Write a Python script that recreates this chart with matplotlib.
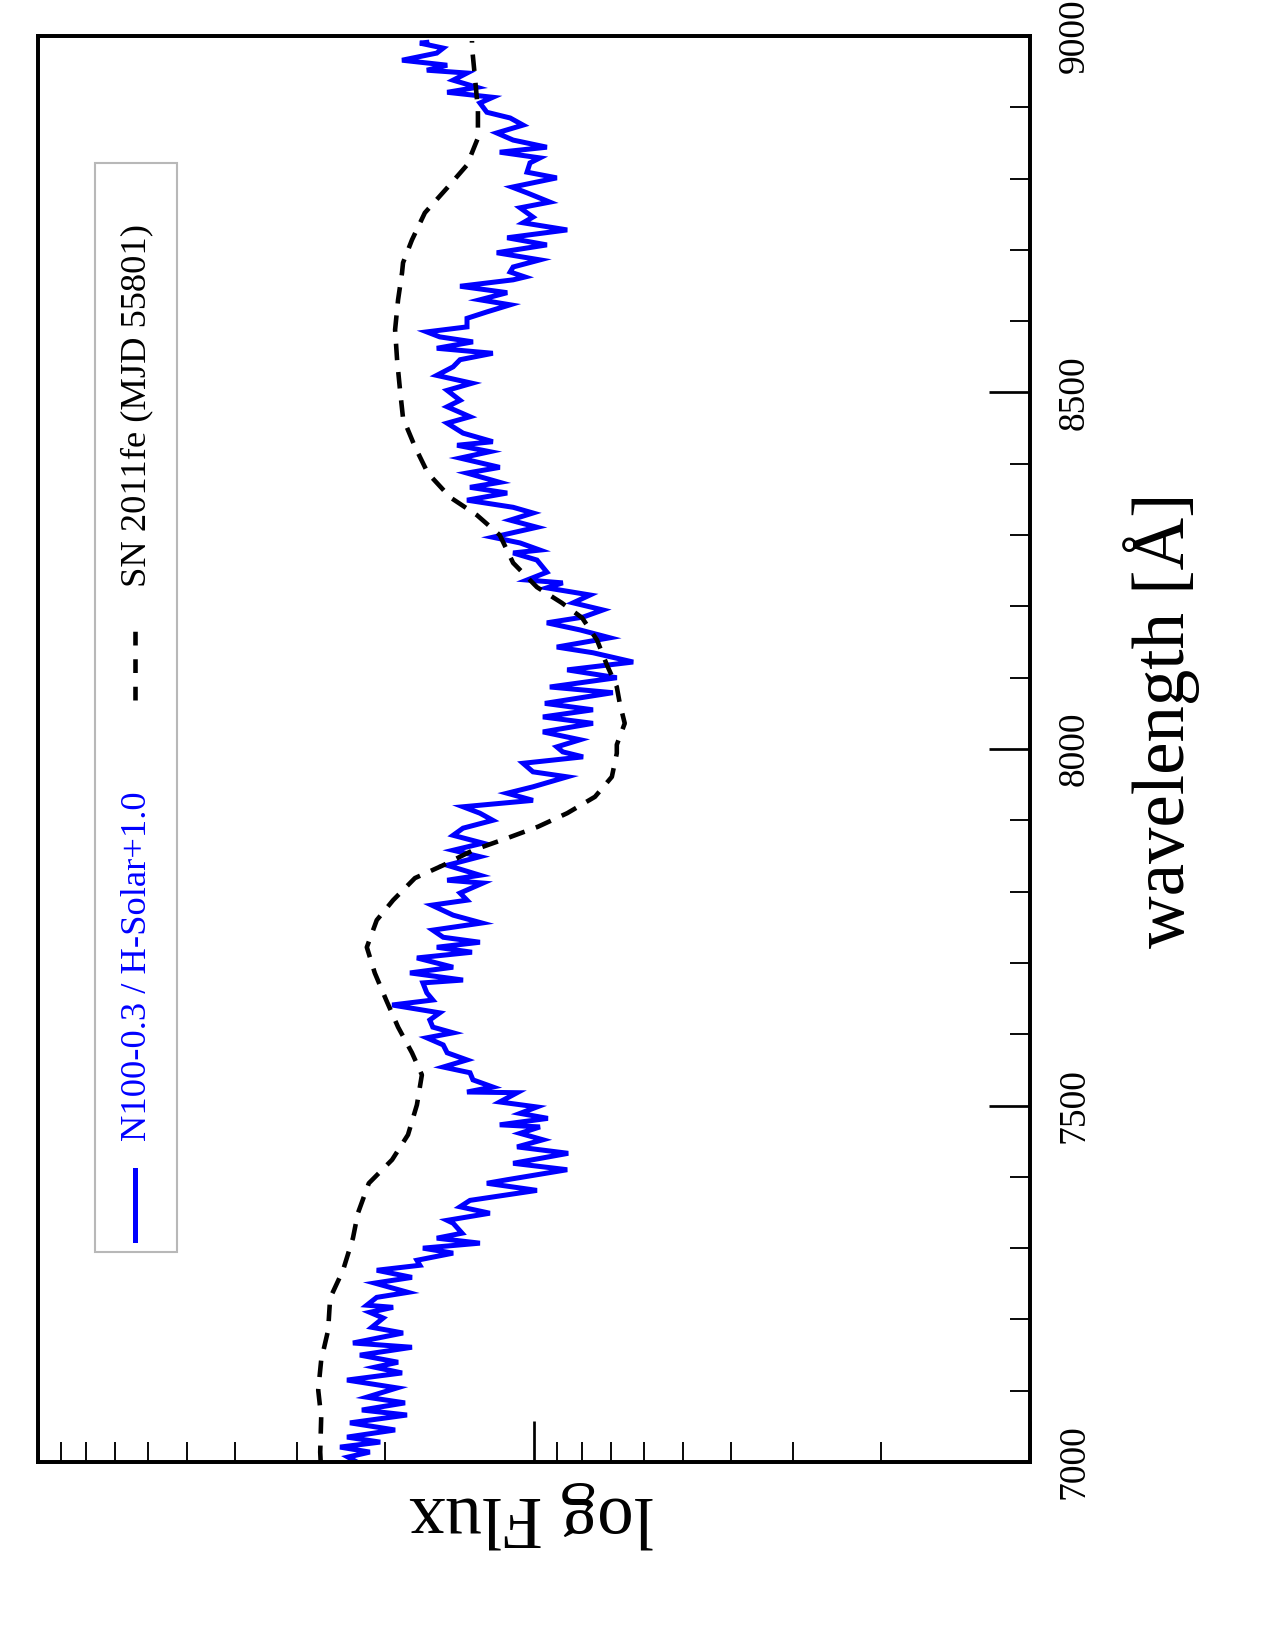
import numpy as np
import matplotlib
matplotlib.use("Agg")
import matplotlib.pyplot as plt
from matplotlib.ticker import MultipleLocator, LogLocator, NullFormatter
from matplotlib.patches import Rectangle
from matplotlib.lines import Line2D

plt.rcParams['font.family'] = ['Liberation Serif', 'DejaVu Serif']

# SN 2011fe (MJD 55801), observed spectrum: wavelength [A] and log10 flux
obs_wave = [7000, 7014, 7063, 7101, 7143, 7185, 7230, 7269, 7314, 7349,
            7391, 7424, 7459, 7501, 7543, 7574, 7610, 7648, 7686, 7722,
            7760, 7788, 7819, 7837, 7858, 7875, 7891, 7910, 7933, 7961,
            7994, 8006, 8036, 8064, 8087, 8118, 8153, 8184, 8205, 8227,
            8261, 8300, 8328, 8353, 8387, 8424, 8464, 8503, 8546, 8588,
            8630, 8668, 8682, 8714, 8752, 8787, 8819, 8857, 8896, 8942,
            8985, 8993]
obs_logflux = [1.430, 1.431, 1.429, 1.435, 1.429, 1.415, 1.411, 1.385, 1.365, 1.355,
               1.333, 1.286, 1.254, 1.236, 1.226, 1.246, 1.274, 1.298, 1.321, 1.337,
               1.317, 1.284, 1.240, 1.183, 1.123, 1.054, 0.992, 0.933, 0.877, 0.843,
               0.833, 0.833, 0.817, 0.827, 0.833, 0.853, 0.873, 0.903, 0.944, 0.994,
               1.042, 1.069, 1.115, 1.169, 1.214, 1.240, 1.264, 1.270, 1.276, 1.280,
               1.274, 1.266, 1.264, 1.246, 1.220, 1.175, 1.135, 1.113, 1.113, 1.119,
               1.125, 1.125]

# N100-0.3 / H-Solar model spectrum (offset +1.0 in log flux)
mod_wave = [7000, 7007, 7014, 7021, 7028, 7035, 7045, 7055, 7066, 7073,
            7083, 7091, 7104, 7115, 7125, 7133, 7140, 7150, 7161, 7167,
            7181, 7189, 7202, 7210, 7217, 7220, 7231, 7238, 7251, 7259,
            7269, 7276, 7283, 7293, 7300, 7307, 7314, 7321,
            7335, 7339, 7349, 7358, 7367, 7381, 7391, 7396, 7410, 7419,
            7433, 7442, 7452, 7461, 7470, 7473, 7482, 7489, 7498, 7505,
            7518, 7519, 7526, 7536, 7546, 7554, 7564, 7574, 7585, 7595,
            7602, 7610, 7620, 7630, 7641, 7648, 7658,
            7672, 7676, 7686, 7694, 7707, 7715, 7722, 7729, 7736, 7746,
            7756, 7767, 7781, 7788, 7798, 7812, 7816, 7823, 7837, 7849,
            7858, 7868, 7879, 7889, 7900, 7910, 7919, 7928, 7938, 7947,
            7961, 7968, 7980, 7989, 7996,
            8003, 8013, 8024, 8036, 8045, 8055, 8064, 8079, 8087, 8100,
            8111, 8122, 8135, 8143, 8156, 8167, 8177, 8185, 8195, 8205,
            8216, 8226, 8233, 8237, 8248, 8265, 8275, 8279, 8289, 8297,
            8311, 8321, 8331,
            8339, 8349, 8359, 8367, 8374, 8387, 8395, 8408, 8417, 8426,
            8431, 8443, 8457, 8466, 8480, 8489, 8503, 8513, 8524, 8536,
            8546, 8555, 8562, 8571, 8578, 8585, 8592, 8604, 8613, 8623,
            8630, 8640, 8649, 8658, 8662, 8669,
            8676, 8686, 8696, 8707, 8717, 8728, 8738, 8746, 8759, 8767,
            8780, 8788, 8801, 8809, 8822, 8829, 8837, 8844, 8854, 8864,
            8875, 8885, 8893, 8906, 8914, 8921, 8928, 8938, 8948, 8952,
            8959, 8966, 8976, 8983, 8990, 8991]
mod_logflux = [1.357, 1.375, 1.331, 1.391, 1.310, 1.377, 1.280, 1.371, 1.256, 1.347,
               1.260, 1.337, 1.276, 1.377, 1.266, 1.321, 1.274, 1.351, 1.246, 1.365,
               1.264, 1.327, 1.304, 1.331, 1.284, 1.337, 1.317, 1.254, 1.321, 1.246,
               1.317, 1.230, 1.236, 1.163, 1.224, 1.109, 1.196, 1.145,
               1.163, 1.175, 1.089, 1.149, 1.129, 0.994, 1.095, 1.054, 0.933, 1.042,
               0.931, 1.034, 0.982, 1.028, 0.988, 1.069, 0.972, 1.028, 0.994, 1.069,
               1.034, 1.135, 1.083, 1.123, 1.129, 1.183, 1.135, 1.175, 1.183, 1.216,
               1.163, 1.204, 1.210, 1.190, 1.286, 1.204, 1.216,
               1.224, 1.143, 1.250, 1.163, 1.236, 1.125, 1.196, 1.109, 1.183, 1.204,
               1.105, 1.163, 1.206, 1.135, 1.149, 1.103, 1.175, 1.109, 1.175, 1.109,
               1.163, 1.103, 1.163, 1.143, 1.083, 1.109, 1.143, 1.002, 1.054, 1.002,
               0.933, 1.002, 1.022, 0.901, 0.942,
               0.954, 0.907, 0.982, 0.881, 0.982, 0.881, 0.978, 0.841, 0.968, 0.833,
               0.933, 0.800, 0.881, 0.954, 0.847, 0.907, 0.974, 0.901, 0.861, 0.921,
               0.887, 0.974, 0.942, 1.014, 0.974, 0.994, 1.042, 0.988, 1.028, 1.083,
               0.994, 1.048, 1.002,
               1.042, 1.135, 1.054, 1.129, 1.069, 1.135, 1.069, 1.149, 1.089, 1.155,
               1.083, 1.143, 1.175, 1.129, 1.175, 1.149, 1.175, 1.125, 1.196, 1.163,
               1.149, 1.083, 1.196, 1.123, 1.190, 1.216, 1.135, 1.135, 1.095, 1.048,
               1.109, 1.054, 1.149, 1.042, 1.018, 1.048,
               1.042, 0.988, 1.075, 0.974, 1.054, 0.933, 1.022, 1.002, 1.028, 0.968,
               1.014, 1.044, 0.954, 1.014, 1.008, 0.988, 1.069, 0.974, 1.042, 1.075,
               1.022, 1.048, 1.095, 1.109, 1.083, 1.175, 1.115, 1.163, 1.135, 1.216,
               1.175, 1.266, 1.196, 1.183, 1.230, 1.216]

model_label = "N100-0.3 / H-Solar+1.0"
obs_label = "SN 2011fe (MJD 55801)"

fig = plt.figure(figsize=(8.5, 11), dpi=150)
ax = fig.add_axes([0.0298, 0.1139, 0.7780, 0.8643])

# the page is printed in landscape: flux runs along the horizontal axis
ax.plot(10 ** np.array(mod_logflux), mod_wave, color='#0000ff', lw=2.4,
        solid_joinstyle='miter')
ax.plot(10 ** np.array(obs_logflux), obs_wave, color='black', lw=2.2,
        ls=(0, (3.6, 2.6)))

ax.set_xscale('log')
ax.set_xlim(100, 1)
ax.set_ylim(7000, 9000)

ax.xaxis.set_major_locator(LogLocator(base=10))
ax.xaxis.set_minor_locator(LogLocator(base=10, subs=np.arange(2, 10)))
ax.xaxis.set_major_formatter(NullFormatter())
ax.xaxis.set_minor_formatter(NullFormatter())
ax.tick_params(axis='x', which='both', direction='in', top=False, bottom=True,
               labelbottom=False)
ax.tick_params(axis='x', which='major', length=19.7, width=1.3)
ax.tick_params(axis='x', which='minor', length=9.6, width=0.9)

ax.yaxis.set_major_locator(MultipleLocator(500))
ax.yaxis.set_minor_locator(MultipleLocator(100))
ax.tick_params(axis='y', which='both', direction='in', left=False, right=True,
               labelleft=False, labelright=True)
ax.tick_params(axis='y', which='major', length=19.7, width=1.3, labelsize=18,
               labelrotation=90, pad=13)
ax.tick_params(axis='y', which='minor', length=9.6, width=0.9)
plt.setp(ax.get_yticklabels(), va='center')

for sp in ax.spines.values():
    sp.set_linewidth(1.9)

fig.text(0.9114, 0.5636, "wavelength [Å]", rotation=90, fontsize=35,
         ha='center', va='center')
fig.text(0.4165, 0.0818, "log Flux", rotation=180, fontsize=35,
         ha='center', va='center')

# legend (rotated with the page)
box = Rectangle((0.0745, 0.2412), 0.0643, 0.66, transform=fig.transFigure,
                facecolor='white', edgecolor='#b8b8b8', lw=1.0, zorder=3)
fig.add_artist(box)
fig.add_artist(Line2D([0.1059, 0.1059], [0.2485, 0.2909], transform=fig.transFigure,
                      color='#0000ff', lw=2.4, zorder=4))
fig.text(0.1075, 0.3085, model_label, rotation=90, fontsize=17.5, color='#0000ff',
         ha='center', va='bottom', zorder=4)
fig.add_artist(Line2D([0.1059, 0.1059], [0.5758, 0.6182], transform=fig.transFigure,
                      color='black', lw=2.2, ls=(0, (3, 3)), zorder=4))
fig.text(0.1075, 0.6442, obs_label, rotation=90, fontsize=17.5, color='black',
         ha='center', va='bottom', zorder=4)

fig.savefig('out.png', dpi=150)
